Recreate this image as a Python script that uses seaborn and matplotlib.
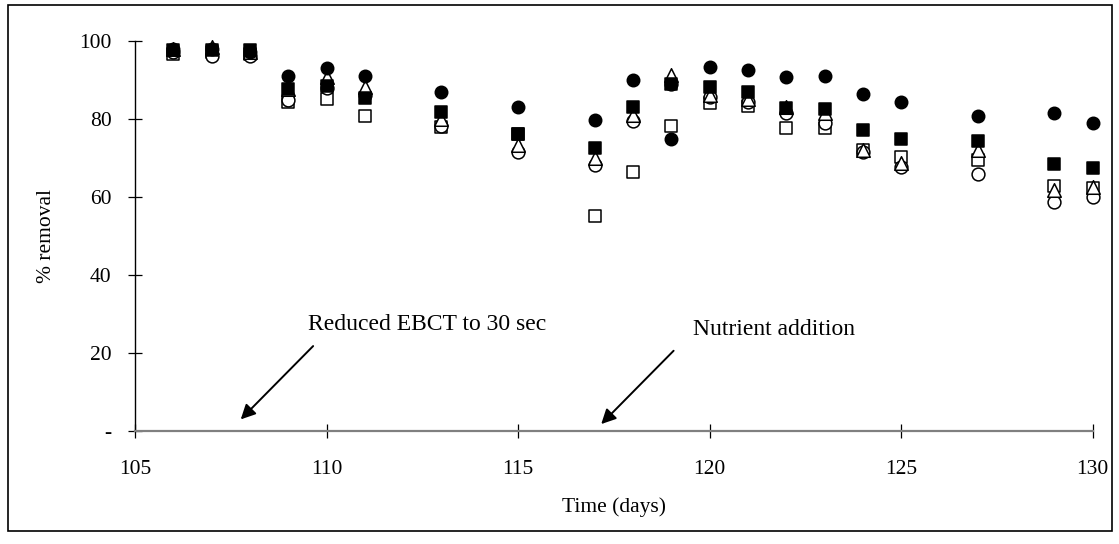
import matplotlib
matplotlib.use("Agg")
import matplotlib.pyplot as plt
import seaborn as sns
import pandas as pd
from matplotlib.patches import Rectangle

days = [106, 107, 108, 109, 110, 111, 113, 115, 117, 118, 119, 120, 121, 122, 123, 124, 125, 127, 129, 130]
filled_circle = [98.0, 98.0, 97.0, 91.0, 92.9, 91.0, 86.9, 82.9, 79.6, 89.9, 74.7, 93.3, 92.5, 90.6, 91.0, 86.3, 84.4, 80.7, 81.4, 78.8]
filled_square = [97.5, 97.5, 97.5, 87.7, 88.4, 85.2, 81.8, 76.1, 72.6, 82.9, 88.8, 88.2, 86.9, 82.7, 82.4, 77.1, 74.8, 74.4, 68.4, 67.3]
open_triangle = [98.0, 98.5, 97.0, 87.5, 90.8, 88.2, 80.0, 73.3, 70.0, 81.0, 91.2, 86.0, 85.0, 83.0, 81.5, 72.0, 68.6, 72.0, 61.7, 62.6]
open_square = [96.5, 97.0, 96.5, 84.4, 85.0, 80.7, 78.0, 76.0, 55.0, 66.3, 78.1, 84.1, 83.3, 77.7, 77.5, 72.0, 70.3, 69.4, 62.8, 62.2]
open_circle = [97.0, 96.0, 96.0, 84.8, 88.0, 86.0, 78.1, 71.5, 68.1, 79.5, 89.0, 85.5, 84.4, 81.4, 78.8, 71.5, 67.7, 65.7, 58.7, 60.0]

yticks = [0, 20, 40, 60, 80, 100]
ytick_labels = ["-", "20", "40", "60", "80", "100"]
xticks = [105, 110, 115, 120, 125, 130]

sns.set_theme(style="white")
plt.rcParams["font.family"] = ["Liberation Serif", "DejaVu Serif"]

fig = plt.figure(figsize=(11.19, 5.44), dpi=100)
ax = fig.add_axes([135 / 1119, 1 - 430.7 / 544, (1092.7 - 135) / 1119, 390 / 544])

# outer frame
fig.patches.append(Rectangle((8 / 1119, 1 - 531 / 544), (1112 - 8) / 1119, (531 - 5) / 544,
                             transform=fig.transFigure, fill=False, edgecolor="black", lw=1.2))

series = [
    (open_square, "s", "white", 75),
    (open_circle, "o", "white", 85),
    (open_triangle, "^", "white", 95),
    (filled_square, "s", "black", 75),
    (filled_circle, "o", "black", 80),
]
for vals, mk, fc, size in series:
    df = pd.DataFrame({"day": days, "val": vals})
    sns.scatterplot(data=df, x="day", y="val", marker=mk, s=size, color=fc,
                    edgecolor="black", linewidth=1.1, ax=ax, clip_on=False, legend=False)

ax.set_xlim(105, 130)
ax.set_ylim(0, 100)
ax.set_xticks(xticks)
ax.set_xticklabels([str(t) for t in xticks])
ax.set_yticks(yticks)
ax.set_yticklabels(ytick_labels)

for s in ["top", "right"]:
    ax.spines[s].set_visible(False)
ax.spines["left"].set_color("black")
ax.spines["left"].set_linewidth(1.0)
ax.spines["bottom"].set_color("#808080")
ax.spines["bottom"].set_linewidth(1.6)

ax.tick_params(axis="both", direction="inout", length=10, width=0.9, color="black",
               labelsize=15.5, labelcolor="black", bottom=True, left=True)
ax.tick_params(axis="x", pad=16)
ax.tick_params(axis="y", pad=12)
ax.grid(False)

ax.set_xlabel("Time (days)", fontsize=15.5, color="black")
ax.set_ylabel("% removal", fontsize=15.5, color="black")
ax.xaxis.set_label_coords(0.5, -0.196)
ax.yaxis.set_label_coords(-0.092, 0.5)
ax.xaxis.label.set_va("center")
ax.yaxis.label.set_va("center")

arrow = dict(arrowstyle="-|>", mutation_scale=22, lw=1.4, color="black",
             shrinkA=0, shrinkB=0)
ax.annotate("", xy=(107.76, 2.9), xytext=(109.65, 21.7), arrowprops=arrow, annotation_clip=False)
ax.text(109.52, 25.8, "Reduced EBCT to 30 sec", fontsize=17, ha="left", va="baseline", color="black")
ax.annotate("", xy=(117.17, 1.7), xytext=(119.06, 20.5), arrowprops=arrow, annotation_clip=False)
ax.text(119.56, 24.6, "Nutrient addition", fontsize=17, ha="left", va="baseline", color="black")

fig.savefig("out.png", dpi=100, facecolor="white")
